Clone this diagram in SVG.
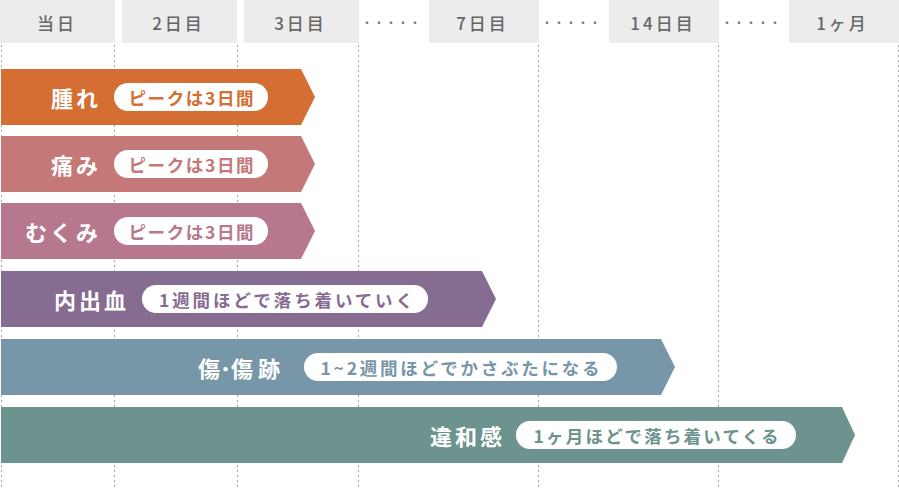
<svg xmlns="http://www.w3.org/2000/svg" width="899" height="489" viewBox="0 0 899 489">
<style>
.cell{fill:#ececec}
.hd{font-family:"Noto Sans CJK JP","Noto Sans",sans-serif;font-size:17px;font-weight:500;fill:#666;letter-spacing:3px;text-anchor:middle;dominant-baseline:central}
.dots{font-family:"Noto Sans CJK JP",sans-serif;font-size:12px;fill:#777;text-anchor:middle;dominant-baseline:central}
.grid line{stroke:#a6a6a6;stroke-width:1;stroke-dasharray:2 3}
.lbl{font-family:"Noto Sans CJK JP","Noto Sans",sans-serif;font-size:22px;font-weight:700;fill:#fff;letter-spacing:3px;text-anchor:end;dominant-baseline:central}
.pill{fill:#fff}
.pt{font-family:"Noto Sans CJK JP","Noto Sans",sans-serif;font-size:17.5px;font-weight:700;text-anchor:middle;dominant-baseline:central}
</style>
<g id="header">
<rect class="cell" x="0" y="0" width="115" height="43"/>
<rect class="cell" x="122" y="0" width="115" height="43"/>
<rect class="cell" x="244" y="0" width="115" height="43"/>
<rect class="cell" x="429" y="0" width="110" height="43"/>
<rect class="cell" x="609" y="0" width="110" height="43"/>
<rect class="cell" x="789" y="0" width="110" height="43"/>
<text class="hd" x="57" y="22">当日</text>
<text class="hd" x="178.5" y="22">2日目</text>
<text class="hd" x="300.5" y="22">3日目</text>
<text class="dots" x="391" y="22">・・・・・</text>
<text class="hd" x="482.5" y="22">7日目</text>
<text class="dots" x="571" y="22">・・・・・</text>
<text class="hd" x="663" y="22">14日目</text>
<text class="dots" x="751" y="22">・・・・・</text>
<text class="hd" x="842.5" y="22">1ヶ月</text>
</g>
<g class="grid" id="connectors">
<line x1="1.5" y1="45" x2="1.5" y2="489"/>
<line x1="114.5" y1="45" x2="114.5" y2="489"/>
<line x1="237.5" y1="45" x2="237.5" y2="489"/>
<line x1="358.5" y1="45" x2="358.5" y2="489"/>
<line x1="538.5" y1="45" x2="538.5" y2="489"/>
<line x1="718.5" y1="45" x2="718.5" y2="489"/>
<line x1="898.5" y1="45" x2="898.5" y2="489"/>
</g>
<g id="bar-swelling">
<polygon points="1,69 301,69 315,97 301,125 1,125" fill="#d46e32"/>
<text class="lbl" x="101" y="97">腫れ</text>
<rect class="pill" x="114" y="83" width="154" height="28" rx="14"/>
<text class="pt" x="191" y="97" fill="#d46e32" textLength="125" lengthAdjust="spacing">ピークは3日間</text>
</g>
<g id="bar-pain">
<polygon points="1,136 301,136 315,164 301,192 1,192" fill="#c47878"/>
<text class="lbl" x="101" y="164">痛み</text>
<rect class="pill" x="114" y="150" width="154" height="28" rx="14"/>
<text class="pt" x="191" y="164" fill="#c47878" textLength="125" lengthAdjust="spacing">ピークは3日間</text>
</g>
<g id="bar-edema">
<polygon points="1,203 301,203 315,231 301,259 1,259" fill="#b7788f"/>
<text class="lbl" x="101" y="231">むくみ</text>
<rect class="pill" x="114" y="217" width="154" height="28" rx="14"/>
<text class="pt" x="191" y="231" fill="#b7788f" textLength="125" lengthAdjust="spacing">ピークは3日間</text>
</g>
<g id="bar-bruise">
<polygon points="1,271 482,271 496,299 482,327 1,327" fill="#876c92"/>
<text class="lbl" x="129" y="299">内出血</text>
<rect class="pill" x="142" y="285" width="286" height="28" rx="14"/>
<text class="pt" x="286" y="299" fill="#876c92" textLength="254" lengthAdjust="spacing">1週間ほどで落ち着いていく</text>
</g>
<g id="bar-wound">
<polygon points="1,339 661,339 675,367 661,395 1,395" fill="#7796a8"/>
<text class="lbl" x="220" y="367" style="letter-spacing:0">傷</text>
<text class="lbl" x="225.5" y="367" style="letter-spacing:0;text-anchor:middle">･</text>
<text class="lbl" x="231" y="367" style="letter-spacing:5px;text-anchor:start">傷跡</text>
<rect class="pill" x="304" y="353" width="313" height="28" rx="14"/>
<text class="pt" x="460" y="367" fill="#7796a8" textLength="279" lengthAdjust="spacing">1~2週間ほどでかさぶたになる</text>
</g>
<g id="bar-discomfort">
<polygon points="1,407 842,407 855,435 842,463 1,463" fill="#6c938e"/>
<text class="lbl" x="505" y="435">違和感</text>
<rect class="pill" x="516" y="421" width="280" height="28" rx="14"/>
<text class="pt" x="656" y="435" fill="#6c938e" textLength="245" lengthAdjust="spacing">1ヶ月ほどで落ち着いてくる</text>
</g>
</svg>
